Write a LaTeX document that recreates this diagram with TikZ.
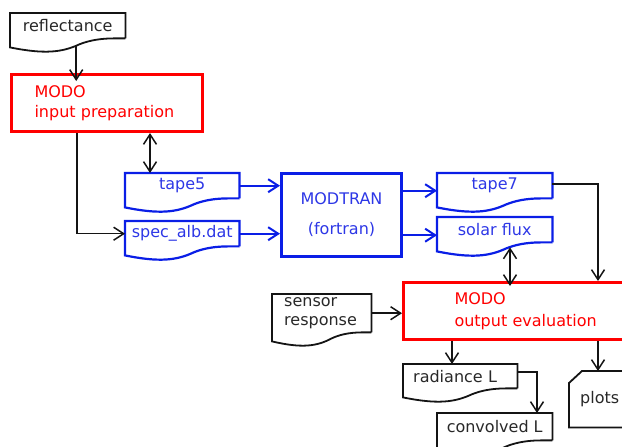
\documentclass[tikz,border=0pt]{standalone}
\usepackage{fontspec}
\setmainfont{DejaVu Sans}
\usetikzlibrary{arrows.meta,calc}
\definecolor{myred}{RGB}{255,0,0}
\definecolor{myblue}{RGB}{10,30,230}
\definecolor{myblack}{RGB}{20,20,20}
\definecolor{mytext}{RGB}{40,40,40}
\definecolor{mybluetext}{RGB}{45,55,230}

% document shape outline drawn around a named node
\newcommand{\docwave}[2][]{%
  \draw[#1] (#2.south east) -- (#2.north east) -- (#2.north west) -- ($(#2.south west)+(0,9)$)
    .. controls ($(#2.south west)!0.3!(#2.south east)+(0,16)$) and ($(#2.south west)!0.45!(#2.south east)+(0,14)$) ..
    ($(#2.south west)!0.6!(#2.south east)+(0,6)$)
    .. controls ($(#2.south west)!0.75!(#2.south east)+(0,-1)$) and ($(#2.south west)!0.9!(#2.south east)$) ..
    (#2.south east);}

\begin{document}
\begin{tikzpicture}[x=1pt,y=-1pt,
  font=\fontsize{16}{19.5}\selectfont,
  docnode/.style={rectangle, inner sep=0pt, anchor=north west, minimum height=25pt},
  blackline/.style={draw=myblack, line width=1.8pt, line join=miter},
  blueline/.style={draw=myblue, line width=2.2pt, line join=miter},
  redbox/.style={rectangle, draw=myred, line width=3pt, anchor=north west, text=myred, align=left},
  tip/.tip={Straight Barb[length=10pt,width=13pt]},
  arr/.style={draw=myblack, line width=1.5pt, -tip},
  darr/.style={draw=myblack, line width=1.5pt, tip-tip},
  barr/.style={draw=myblue, line width=2pt, -tip},
]
\useasboundingbox (0,0) rectangle (622,447);
\clip (0,0) rectangle (622,447);

% nodes
\node[docnode, minimum width=115pt, text=mytext] (refl) at (10,13) {reflectance};
\docwave[blackline]{refl}

\node[redbox, minimum width=191pt, minimum height=57pt, inner xsep=23pt, inner ysep=0pt, text width=145pt] (modoin) at (10,73) {MODO\\input preparation};

\node[docnode, minimum width=114pt, text=mybluetext] (tape5) at (125,173) {tape5};
\docwave[blueline]{tape5}
\node[docnode, minimum width=114pt, text=mybluetext] (specalb) at (125,221) {spec\_alb.dat};
\docwave[blueline]{specalb}

\node[rectangle, draw=myblue, line width=3pt, anchor=north west, minimum width=120pt, minimum height=83pt, text=mybluetext, align=center] (modtran) at (280,172) {MODTRAN\\[10.5pt](fortran)};

\node[docnode, minimum width=115pt, text=mybluetext] (tape7) at (437,173) {tape7};
\docwave[blueline]{tape7}
\node[docnode, minimum width=115pt, text=mybluetext] (solar) at (437,217) {solar flux};
\docwave[blueline]{solar}

\node[docnode, minimum width=99pt, minimum height=38pt, inner xsep=12pt, text width=75pt, align=left, text=mytext] (sensor) at (272,294) {sensor\\response};
\docwave[blackline]{sensor}

\node[redbox, minimum width=260pt, minimum height=57pt, inner xsep=51pt, inner ysep=0pt, text width=158pt] (modoout) at (402,281) {MODO\\[2.5pt]output evaluation};

\node[docnode, minimum width=114pt, minimum height=24pt, inner xsep=10pt, text width=94pt, align=left, text=mytext] (radiance) at (403,364) {radiance L};
\docwave[blackline]{radiance}

\node[docnode, minimum width=115pt, minimum height=27pt, text=mytext] (convolved) at (437,413) {convolved L};
\docwave[blackline]{convolved}

\node[docnode, minimum width=80pt, minimum height=56pt, inner xsep=11pt, text width=58pt, align=left, text=mytext] (plots) at (569,371) {plots};
\draw[blackline] ([yshift=-12pt]plots.north west) -- ([xshift=13pt]plots.north west) -- (plots.north east) -- (plots.south east) -- (plots.south west) -- cycle;

% connectors
\draw[arr] ([shift={(8.5,8)}]refl.south) -- ([shift={(8.5,8)}]refl.south |- modoin.north);
\draw[arr] ([xshift=67pt]modoin.south west) |- (specalb.west);
\draw[darr] ([xshift=25pt]tape5.north west |- modoin.south) -- ([xshift=25pt]tape5.north west);
\draw[barr] (tape5.east) -- (tape5.east -| modtran.west);
\draw[barr] (specalb.east) -- (specalb.east -| modtran.west);
\draw[barr] ([yshift=-5pt]tape7.west -| modtran.east) -- ([yshift=-5pt]tape7.west);
\draw[barr] ([yshift=-5.5pt]solar.west -| modtran.east) -- ([yshift=-5.5pt]solar.west);
\draw[arr] ([yshift=1.5pt]tape7.east) -| ([xshift=196pt]modoout.north west);
\draw[darr] ([shift={(73,5)}]solar.south west) -- ([shift={(73,5)}]solar.south west |- modoout.north);
\draw[arr] (sensor.east) -- (sensor.east -| modoout.west);
\draw[arr] ([xshift=50pt]modoout.south west) -- ([xshift=50pt]modoout.south west |- radiance.north);
\draw[arr] ([yshift=-8pt]radiance.north east) -| ([xshift=100pt]convolved.north west);
\draw[arr] ([xshift=196pt]modoout.south west) -- ([xshift=196pt]modoout.south west |- plots.north);
\end{tikzpicture}
\end{document}
